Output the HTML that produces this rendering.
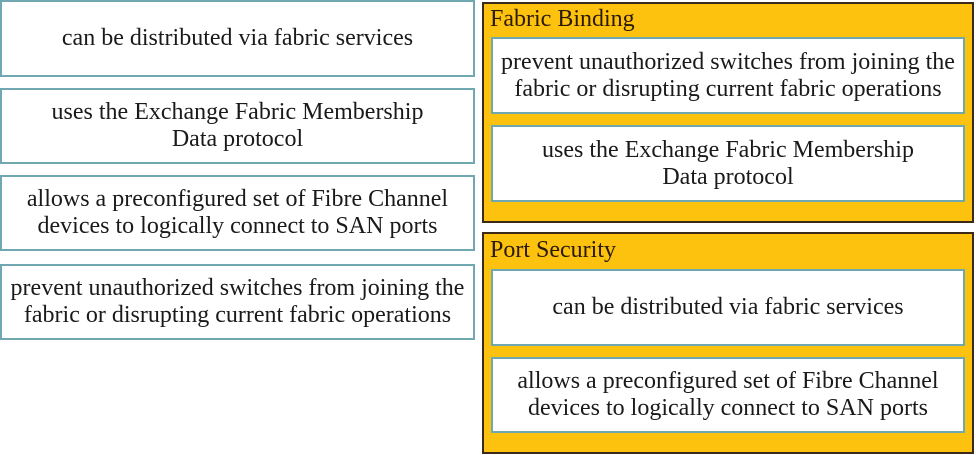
<!DOCTYPE html>
<html><head><meta charset="utf-8"><style>
body{margin:0;width:976px;height:455px;background:#fff;position:relative;overflow:hidden;font-family:"Liberation Serif",serif;color:#1a1a1a}
.b{position:absolute;box-sizing:border-box;border:2px solid #6fa8b0;background:#fff;display:flex;align-items:center;justify-content:center;text-align:center;font-size:24px;line-height:27px;white-space:nowrap}
.c{position:absolute;box-sizing:border-box;border:2px solid #3a2a1a;background:#fdc20e}
.t{position:absolute;font-size:24px;color:#2a1a0a}
</style></head><body>
<div class="b" style="left:0;top:0;width:475px;height:77px">can be distributed via fabric services</div>
<div class="b" style="left:0;top:88px;width:475px;height:76px">uses the Exchange Fabric Membership<br>Data protocol</div>
<div class="b" style="left:0;top:175px;width:475px;height:76px">allows a preconfigured set of Fibre Channel<br>devices to logically connect to SAN ports</div>
<div class="b" style="left:0;top:264px;width:475px;height:76px">prevent unauthorized switches from joining the<br>fabric or disrupting current fabric operations</div>
<div class="c" style="left:482px;top:2px;width:492px;height:221px"></div>
<div class="t" style="left:490px;top:6px">Fabric Binding</div>
<div class="b" style="left:491px;top:37px;width:474px;height:77px">prevent unauthorized switches from joining the<br>fabric or disrupting current fabric operations</div>
<div class="b" style="left:491px;top:125px;width:474px;height:77px">uses the Exchange Fabric Membership<br>Data protocol</div>
<div class="c" style="left:482px;top:232px;width:492px;height:222px"></div>
<div class="t" style="left:490px;top:237px">Port Security</div>
<div class="b" style="left:491px;top:269px;width:474px;height:77px">can be distributed via fabric services</div>
<div class="b" style="left:491px;top:357px;width:474px;height:76px">allows a preconfigured set of Fibre Channel<br>devices to logically connect to SAN ports</div>
</body></html>
